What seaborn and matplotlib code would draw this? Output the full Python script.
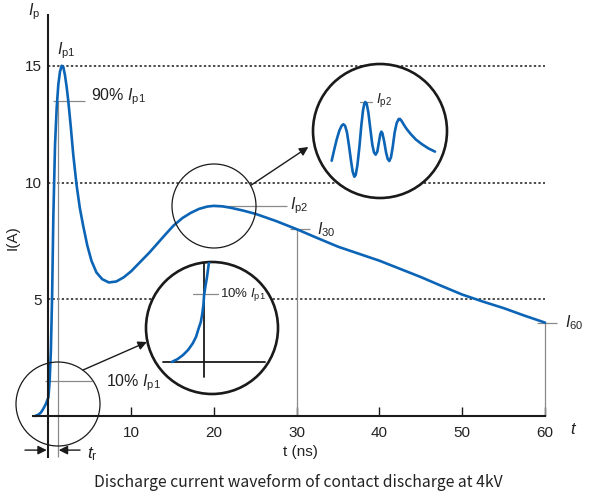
"""Discharge current waveform of contact discharge at 4kV (sketch with zoom insets)."""
import matplotlib
matplotlib.use("Agg")
import matplotlib.pyplot as plt
from matplotlib.patches import Circle
import seaborn as sns

# main waveform: t in ns, I in A
time_ns = [-1.6, -1.2, -0.9, -0.6, -0.3, 0.0, 0.15, 0.3, 0.45, 0.6, 0.8, 1.0, 1.2, 1.4,
           1.6, 1.8, 2.0, 2.2, 2.4, 2.7, 3.0, 3.4, 3.8, 4.2, 4.7, 5.2, 5.8, 6.5, 7.3,
           8.2, 9.1, 10.0, 11.1, 12.2, 13.2, 14.2, 15.1, 16.2, 17.2, 18.2, 19.2, 20.0,
           21.0, 22.0, 23.5, 25.0, 27.5, 30.0, 32.5, 35.0, 37.5, 40.0, 42.5, 45.0, 47.5,
           50.0, 52.5, 55.0, 57.5, 60.0]
current_a = [0.0, 0.06, 0.15, 0.32, 0.52, 0.8, 1.5, 2.8, 5.2, 8.6, 11.6, 13.2, 14.2, 14.75,
             15.0, 14.95, 14.6, 14.1, 13.5, 12.4, 11.2, 9.9, 8.9, 8.15, 7.3, 6.65, 6.15,
             5.86, 5.72, 5.76, 5.94, 6.2, 6.6, 7.0, 7.4, 7.8, 8.15, 8.48, 8.7, 8.87, 8.97,
             9.0, 8.98, 8.92, 8.8, 8.66, 8.35, 8.0, 7.62, 7.25, 6.95, 6.65, 6.3, 5.95, 5.57,
             5.2, 4.9, 4.62, 4.3, 4.0]

x_ticks = [10, 20, 30, 40, 50, 60]
y_ticks = [5, 10, 15]
ip1 = 15.0
ip2_t, ip2 = 20.0, 9.0
i30 = 8.0
i60 = 4.0
tr_t = 1.1

# zoomed sketches drawn inside the big circles (unit circle coordinates)
rise_u = [-0.61, -0.52, -0.44, -0.36, -0.29, -0.24, -0.21, -0.17, -0.15, -0.13, -0.12,
          -0.10, -0.076, -0.045]
rise_v = [-0.515, -0.47, -0.41, -0.33, -0.23, -0.13, -0.03, 0.09, 0.20, 0.35, 0.50,
          0.63, 0.77, 1.0]
ring_u = [-0.721, -0.687, -0.647, -0.607, -0.572, -0.547, -0.522, -0.493, -0.463, -0.433,
          -0.408, -0.383, -0.363, -0.338, -0.308, -0.279, -0.254, -0.234, -0.219, -0.199,
          -0.174, -0.144, -0.114, -0.090, -0.065, -0.040, -0.015, 0.005, 0.020, 0.035,
          0.060, 0.090, 0.115, 0.139, 0.164, 0.189, 0.219, 0.249, 0.279, 0.299, 0.323,
          0.358, 0.398, 0.458, 0.537, 0.622, 0.721, 0.821]
ring_v = [-0.443, -0.294, -0.129, 0.005, 0.080, 0.100, 0.080, -0.020, -0.219, -0.443,
          -0.607, -0.682, -0.657, -0.517, -0.244, 0.080, 0.304, 0.408, 0.433, 0.408,
          0.279, 0.030, -0.209, -0.318, -0.353, -0.308, -0.159, -0.045, -0.010, -0.030,
          -0.144, -0.318, -0.418, -0.448, -0.393, -0.244, -0.020, 0.119, 0.179, 0.179,
          0.149, 0.090, 0.030, -0.045, -0.129, -0.194, -0.259, -0.308]

BLUE = "#0b64b5"
GRAY = "#8a8a8a"
INK = "#222222"

sns.set_theme(style="white")
plt.rcParams["font.family"] = ["Liberation Sans", "DejaVu Sans"]
plt.rcParams["mathtext.fontset"] = "custom"
plt.rcParams["mathtext.rm"] = "Liberation Sans"
plt.rcParams["mathtext.it"] = "Liberation Sans:italic"

fig = plt.figure(figsize=(6, 5), dpi=100)
ax = fig.add_axes([0, 0, 1, 1])
ax.patch.set_alpha(0)

# guides first so the curve sits on top
ax.hlines(y_ticks, 0, 60, colors="k", linestyles=(0, (1.5, 1.5)), lw=1.1)
ax.vlines(tr_t, -1.76, 0.9 * ip1, colors=GRAY, lw=0.9)
ax.hlines(0.9 * ip1, 0.55, 4.4, colors=GRAY, lw=0.9)
ax.hlines(0.1 * ip1, -0.4, 5.3, colors=GRAY, lw=0.9)
ax.hlines(ip2, ip2_t, 28.8, colors=GRAY, lw=0.9)
ax.hlines(i30, 29.2, 31.6, colors=GRAY, lw=0.9)
ax.vlines(30, 0, i30, colors=GRAY, lw=0.9)
ax.hlines(i60, 59.0, 61.4, colors=GRAY, lw=0.9)
ax.vlines(60, 0, i60, colors=GRAY, lw=0.9)

sns.lineplot(x=time_ns, y=current_a, ax=ax, color=BLUE, lw=1.9, sort=False,
             estimator=None)

ax.set_xlim(-5.848, 66.64)
ax.set_ylim(-3.597, 17.816)
for side in ["top", "right"]:
    ax.spines[side].set_visible(False)
ax.spines["left"].set_position(("data", 0))
ax.spines["bottom"].set_position(("data", 0))
ax.spines["left"].set_bounds(-1.76, 17.17)
ax.spines["bottom"].set_bounds(-1.82, 60)
for side in ["left", "bottom"]:
    ax.spines[side].set_color("k")
    ax.spines[side].set_linewidth(1.5)
ax.set_xticks(x_ticks)
ax.set_yticks(y_ticks)
ax.tick_params(axis="x", direction="in", length=6.5, width=1, color="k", pad=7,
               labelsize=11, labelcolor=INK, bottom=True)
ax.tick_params(axis="y", length=0, pad=4.8, labelsize=11, labelcolor=INK)
ax.set_xlabel("")
ax.set_ylabel("")

txt = dict(fontsize=11.5, color=INK, va="center")
ax.text(-2.46, 17.3, r"$I_{\rm p}$", ha="left", **txt)
ax.text(1.04, 15.63, r"$I_{\rm p1}$", ha="left", **txt)
ax.text(5.16, 13.66, r"90% $I_{\rm p1}$", ha="left", **txt)
ax.text(6.96, 1.41, r"10% $I_{\rm p1}$", ha="left", **txt)
ax.text(29.2, 9.0, r"$I_{\rm p2}$", ha="left", **txt)
ax.text(32.4, 8.0, r"$I_{30}$", ha="left", **txt)
ax.text(62.4, 4.0, r"$I_{60}$", ha="left", **txt)
ax.text(63.0, -0.56, r"$t$", ha="left", fontsize=12, color=INK, va="center")
ax.text(30.4, -1.54, "t (ns)", ha="center", fontsize=11, color=INK, va="center")
ax.text(-4.28, 7.62, "I(A)", ha="center", rotation=90, fontsize=11, color=INK,
        va="center")
ax.text(4.65, -1.62, r"$t_{\rm r}$", ha="left", fontsize=12.5, color=INK, va="center")
ax.text(30.2, -2.83, "Discharge current waveform of contact discharge at 4kV",
        ha="center", va="center", fontsize=11.3, color=INK,
        family=["Noto Sans CJK JP", "DejaVu Sans"])

head = dict(arrowstyle="-|>", color="k", lw=1.0, mutation_scale=13,
            shrinkA=0, shrinkB=0)
ax.annotate("", xy=(-0.2, -1.46), xytext=(-2.83, -1.46), arrowprops=head)
ax.annotate("", xy=(1.25, -1.46), xytext=(3.82, -1.46), arrowprops=head)
ax.annotate("", xy=(11.9, 3.17), xytext=(4.18, 1.97), arrowprops=head)
ax.annotate("", xy=(31.4, 11.52), xytext=(24.5, 9.89), arrowprops=head)


def ring(cx, cy, r, lw, filled):
    """Square axes over a circle given in pixels, local coords on the unit circle."""
    sub = fig.add_axes([(cx - r) / 600, (500 - cy - r) / 500, 2 * r / 600, 2 * r / 500])
    sub.set_xlim(-1, 1)
    sub.set_ylim(-1, 1)
    sub.axis("off")
    sub.add_patch(Circle((0, 0), 1, facecolor="white" if filled else "none",
                         edgecolor="k", lw=lw, clip_on=False, zorder=0))
    return sub


ring(58, 404, 42, 0.9, False)
ring(214, 206, 42, 0.9, False)

low = ring(212, 328, 66, 1.9, True)
low.plot([-0.74, 0.80], [-0.515, -0.515], color="k", lw=1.3)
low.plot([-0.12, -0.12], [-0.74, 1.0], color="k", lw=1.3)
low.plot([-0.29, 0.09], [0.515, 0.515], color=GRAY, lw=0.9)
sns.lineplot(x=rise_u, y=rise_v, ax=low, color=BLUE, lw=1.9, sort=False, estimator=None)
low.text(0.12, 0.515, r"10% $I_{\rm p1}$", fontsize=9.5, color=INK, va="center")
low.set_xlim(-1, 1)
low.set_ylim(-1, 1)

high = ring(380, 131, 67, 1.9, True)
high.plot([-0.30, -0.12], [0.43, 0.43], color=GRAY, lw=0.9)
sns.lineplot(x=ring_u, y=ring_v, ax=high, color=BLUE, lw=1.9, sort=False, estimator=None)
high.text(-0.06, 0.45, r"$I_{\rm p2}$", fontsize=10, color=INK, va="center")
high.set_xlim(-1, 1)
high.set_ylim(-1, 1)

fig.savefig("out.png", dpi=100)
